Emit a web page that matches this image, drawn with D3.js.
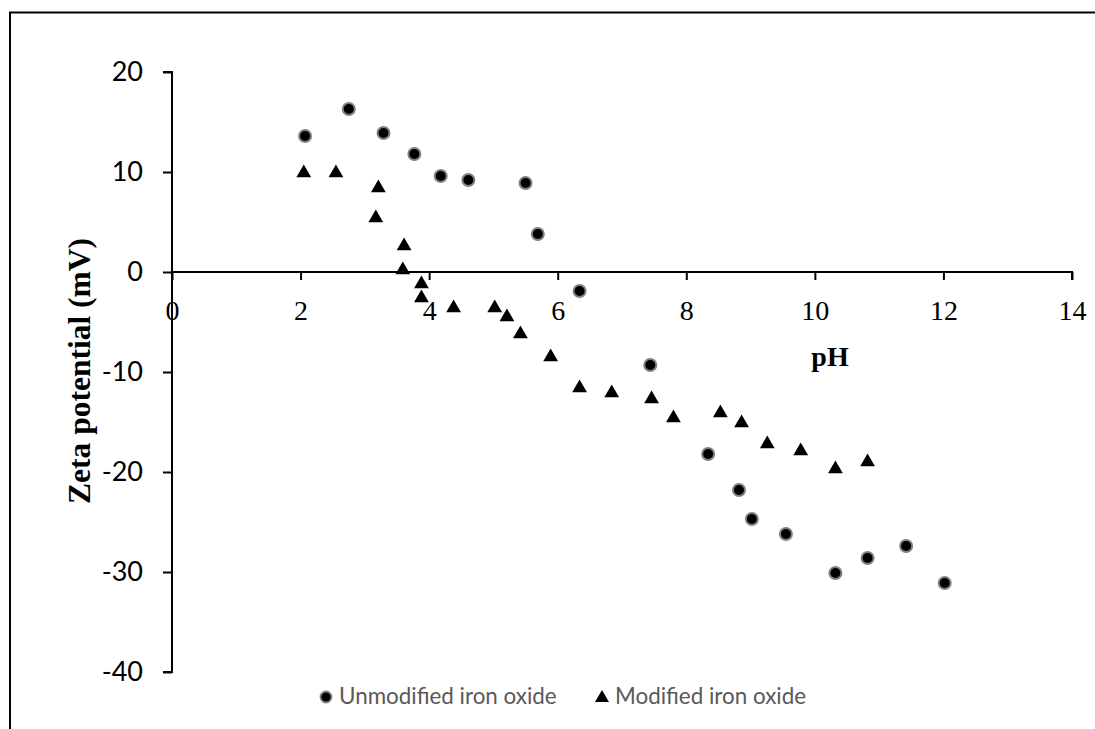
<!DOCTYPE html>
<html>
<head>
<meta charset="utf-8">
<script src="https://cdn.jsdelivr.net/npm/d3@7"></script>
<style>
  html, body { margin: 0; padding: 0; background: #fff; }
  svg { display: block; }
</style>
</head>
<body>
<svg id="chart" width="1095" height="729"></svg>
<script>
// Zeta potential vs pH for unmodified and modified iron oxide
const unmodifiedPH   = [2.07, 2.75, 3.29, 3.77, 4.18, 4.61, 5.50, 5.69, 6.34, 7.44, 8.34, 8.82, 9.02, 9.55, 10.32, 10.82, 11.42, 12.02];
const unmodifiedZeta = [13.6, 16.3, 13.9, 11.8, 9.6, 9.2, 8.9, 3.8, -1.9, -9.3, -18.2, -21.8, -24.7, -26.2, -30.1, -28.6, -27.4, -31.1];

const modifiedPH   = [2.05, 2.55, 3.21, 3.17, 3.61, 3.59, 3.88, 3.88, 4.38, 5.02, 5.21, 5.42, 5.89, 6.34, 6.84, 7.46, 7.80, 8.53, 8.86, 9.26, 9.78, 10.32, 10.82];
const modifiedZeta = [10.0, 10.0, 8.5, 5.5, 2.7, 0.3, -1.1, -2.5, -3.5, -3.5, -4.4, -6.1, -8.4, -11.5, -12.0, -12.6, -14.5, -14.0, -15.0, -17.1, -17.8, -19.6, -18.9];

const xTicks = [0, 2, 4, 6, 8, 10, 12, 14];
const yTicks = [-40, -30, -20, -10, 0, 10, 20];

const seriesNames = ["Unmodified iron oxide", "Modified iron oxide"];
const xTitle = "pH";
const yTitle = "Zeta potential (mV)";

const svg = d3.select("#chart");

// Outer frame
svg.append("rect")
  .attr("x", 10).attr("y", 12.5)
  .attr("width", 1200).attr("height", 800)
  .attr("fill", "none").attr("stroke", "#000").attr("stroke-width", 2);

const x = d3.scaleLinear().domain([0, 14]).range([172, 1072]);
const y = d3.scaleLinear().domain([-40, 20]).range([672, 72]);

// Y axis
const yAxis = svg.append("g")
  .attr("transform", `translate(${x(0)},0)`)
  .call(d3.axisLeft(y).tickValues(yTicks).tickSize(9).tickPadding(20).tickFormat(d3.format("d")));
yAxis.select(".domain").attr("stroke", "#000").attr("stroke-width", 2)
  .attr("d", `M-9,${y(20)}H0V${y(-40)}H-9`);
yAxis.selectAll(".tick line").attr("stroke", "#000").attr("stroke-width", 2);
yAxis.selectAll(".tick text")
  .attr("font-family", "Lato, 'Open Sans', sans-serif")
  .attr("font-size", 27).attr("fill", "#000")
  .text(d => d < 0 ? "-" + Math.abs(d) : d);

// X axis through zero
const xAxis = svg.append("g")
  .attr("transform", `translate(0,${y(0)})`)
  .call(d3.axisBottom(x).tickValues(xTicks).tickSize(8).tickPadding(20).tickFormat(d3.format("d")));
xAxis.select(".domain").attr("stroke", "#000").attr("stroke-width", 2)
  .attr("d", `M${x(0)},0H${x(14)}V8`);
xAxis.selectAll(".tick line").attr("stroke", "#000").attr("stroke-width", 2);
xAxis.selectAll(".tick text")
  .attr("font-family", "'Liberation Serif', 'Times New Roman', serif")
  .attr("font-size", 28).attr("fill", "#000");

// Axis titles
svg.append("text")
  .attr("x", 830).attr("y", 366)
  .attr("text-anchor", "middle")
  .attr("font-family", "'Liberation Serif', 'Times New Roman', serif")
  .attr("font-weight", "bold").attr("font-size", 28)
  .text(xTitle);

svg.append("text")
  .attr("transform", "translate(90,371) rotate(-90)")
  .attr("text-anchor", "middle")
  .attr("font-family", "'Liberation Serif', 'Times New Roman', serif")
  .attr("font-weight", "bold").attr("font-size", 31.5)
  .text(yTitle);

// Markers
const triangle = d3.symbol().type(d3.symbolTriangle).size(95);

const unmod = unmodifiedPH.map((p, i) => ({ p, z: unmodifiedZeta[i] }));
const mod = modifiedPH.map((p, i) => ({ p, z: modifiedZeta[i] }));

svg.append("g").selectAll("path")
  .data(mod).join("path")
  .attr("d", triangle)
  .attr("transform", d => `translate(${x(d.p)},${y(d.z) + 1})`)
  .attr("fill", "#000");

svg.append("g").selectAll("circle")
  .data(unmod).join("circle")
  .attr("cx", d => x(d.p)).attr("cy", d => y(d.z))
  .attr("r", 6)
  .attr("fill", "#000").attr("stroke", "#808080").attr("stroke-width", 2);

// Legend
const legend = svg.append("g");
const lgY = 697;
legend.append("circle").attr("cx", 326).attr("cy", lgY).attr("r", 5.5)
  .attr("fill", "#000").attr("stroke", "#808080").attr("stroke-width", 1.8);
legend.append("text").attr("x", 339).attr("y", lgY + 7)
  .attr("font-family", "Lato, 'Open Sans', sans-serif").attr("font-size", 22.4)
  .attr("fill", "#595959").text(seriesNames[0]);
legend.append("path").attr("d", d3.symbol().type(d3.symbolTriangle).size(85))
  .attr("transform", `translate(602,${lgY + 1})`).attr("fill", "#000");
legend.append("text").attr("x", 615).attr("y", lgY + 7)
  .attr("font-family", "Lato, 'Open Sans', sans-serif").attr("font-size", 22.4)
  .attr("fill", "#595959").text(seriesNames[1]);
</script>
</body>
</html>
